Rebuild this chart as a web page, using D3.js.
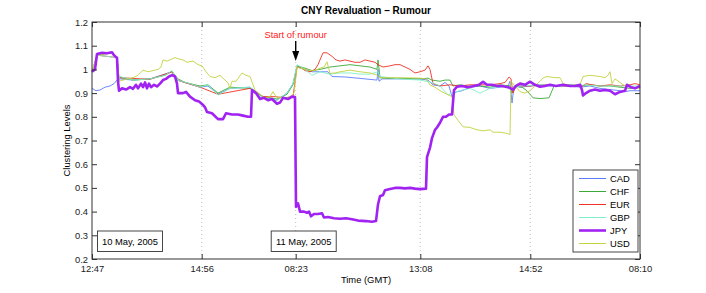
<!DOCTYPE html>
<html>
<head>
<meta charset="utf-8">
<script src="https://cdn.jsdelivr.net/npm/d3@7"></script>
<style>
  html, body { margin: 0; padding: 0; background: #fff; }
  svg text { font-family: "Liberation Sans", Arial, sans-serif; }
</style>
</head>
<body>
<div id="chart"></div>
<script>
/* ─────────────── Datos (t = índice de tiempo, valor) ─────────────── */
const TICK_POS    = [0, 109.7, 203.7, 328.3, 438.3, 548];
const TICK_LABELS = ['12:47', '14:56', '08:23', '13:08', '14:52', '08:10'];
const Y_TICKS     = [0.2, 0.3, 0.4, 0.5, 0.6, 0.7, 0.8, 0.9, 1, 1.1, 1.2];
const RUMOUR_T    = 203.7;
const DAY_LABELS  = ['10 May, 2005', '11 May, 2005'];

// puntos: [pixel x, nivel]; t = px - 92
const CAD = [[92,0.92],[96,0.91],[100,0.913],[105,0.925],[110,0.93],[114,0.94],[117,0.955],[120,0.96],[133,0.955],[150,0.96],[172,0.99],[177,0.955],[200,0.925],[208,0.93],[218,0.895],[230,0.92],[250,0.925],[263,0.88],[277,0.87],[287,0.9],[293,0.94],[297,1.01],[305,1.0],[312,0.99],[320,0.99],[328,0.99],[332,0.97],[345,0.968],[360,0.962],[377,0.955],[378,1.0],[379,0.95],[382,0.96],[400,0.96],[420,0.96],[428,0.955],[433,0.935],[440,0.93],[445,0.945],[449,0.93],[452,0.885],[456,0.905],[462,0.91],[470,0.925],[480,0.93],[490,0.92],[500,0.925],[508,0.93],[510,0.95],[512,0.858],[514,0.93],[520,0.925],[530,0.93],[540,0.935],[550,0.93],[560,0.93],[570,0.93],[580,0.925],[590,0.93],[600,0.92],[610,0.915],[620,0.91],[625,0.906],[630,0.91],[640,0.91]];

const CHF = [[92,0.99],[95,1.0],[97,1.06],[112,1.07],[117,1.05],[119,0.96],[120,0.965],[126,0.962],[133,0.955],[140,0.957],[150,0.96],[158,0.968],[165,0.975],[172,0.992],[178,0.96],[185,0.945],[200,0.93],[208,0.935],[218,0.9],[230,0.925],[250,0.92],[263,0.885],[277,0.875],[287,0.895],[293,0.935],[297,1.015],[305,1.005],[312,0.995],[320,1.0],[330,1.01],[340,1.015],[350,1.02],[360,1.015],[370,1.01],[377,1.0],[378,1.04],[380,0.965],[390,0.962],[400,0.962],[420,0.96],[428,0.963],[432,0.955],[440,0.95],[445,0.955],[450,0.955],[453,0.93],[460,0.935],[470,0.928],[480,0.93],[490,0.925],[500,0.935],[510,0.93],[512,0.9],[515,0.93],[522,0.925],[526,0.913],[530,0.895],[533,0.88],[540,0.877],[549,0.88],[552,0.91],[554,0.93],[570,0.935],[580,0.93],[590,0.935],[600,0.93],[610,0.93],[620,0.925],[630,0.92],[640,0.925]];

const EUR = [[92,0.99],[97,1.06],[117,1.05],[119,0.96],[120,0.965],[150,0.958],[172,0.99],[177,0.955],[200,0.925],[218,0.895],[250,0.92],[263,0.885],[268,0.885],[275,0.885],[285,0.88],[293,0.885],[297,1.01],[300,1.01],[305,0.995],[310,0.99],[315,1.0],[318,1.02],[323,1.07],[327,1.07],[332,1.055],[336,1.04],[340,1.035],[345,1.04],[350,1.035],[355,1.03],[360,1.03],[365,1.04],[370,1.035],[375,1.03],[378,1.02],[383,1.01],[390,1.015],[395,1.02],[400,1.02],[405,1.01],[410,1.0],[415,0.985],[420,0.99],[425,0.997],[428,1.015],[430,1.0],[433,0.94],[440,0.93],[450,0.935],[460,0.93],[470,0.935],[480,0.935],[490,0.935],[500,0.94],[505,0.945],[509,0.968],[511,0.96],[513,0.9],[516,0.93],[530,0.93],[545,0.935],[560,0.93],[575,0.93],[583,0.93],[586,0.94],[592,0.935],[600,0.93],[610,0.935],[620,0.93],[630,0.935],[635,0.94],[640,0.935]];

const GBP = [[92,0.99],[97,1.06],[117,1.05],[119,0.96],[120,0.97],[133,0.955],[150,0.96],[165,0.975],[172,0.995],[177,0.955],[190,0.94],[200,0.925],[208,0.935],[218,0.892],[230,0.92],[250,0.925],[263,0.88],[277,0.87],[287,0.9],[293,0.94],[297,1.02],[305,1.0],[312,0.975],[320,0.99],[330,0.98],[340,0.985],[350,0.985],[360,0.98],[370,0.98],[378,0.99],[380,0.97],[390,0.965],[400,0.96],[420,0.955],[432,0.945],[440,0.93],[448,0.892],[452,0.9],[460,0.91],[470,0.92],[480,0.9],[490,0.92],[505,0.93],[512,0.92],[520,0.93],[540,0.935],[560,0.93],[580,0.935],[600,0.93],[620,0.93],[640,0.93]];

const JPY = [[92,0.99],[95,1.0],[97,1.065],[102,1.07],[107,1.068],[112,1.072],[114,1.06],[116,1.052],[117,1.05],[118,0.95],[119,0.91],[122,0.92],[126,0.915],[130,0.925],[133,0.918],[136,0.935],[138,0.92],[141,0.94],[143,0.925],[145,0.945],[147,0.92],[149,0.94],[151,0.925],[154,0.935],[157,0.928],[160,0.94],[163,0.955],[166,0.96],[169,0.97],[172,0.976],[175,0.97],[177,0.94],[178,0.9],[183,0.9],[186,0.905],[190,0.885],[195,0.87],[199,0.865],[203,0.85],[205,0.84],[207,0.82],[212,0.815],[218,0.79],[223,0.79],[226,0.815],[232,0.81],[238,0.81],[243,0.805],[248,0.8],[251,0.8],[252,0.913],[256,0.9],[260,0.875],[264,0.88],[268,0.87],[272,0.875],[277,0.855],[280,0.86],[283,0.88],[288,0.875],[292,0.885],[295,0.883],[296,0.42],[298,0.435],[300,0.4],[304,0.4],[307,0.395],[309,0.4],[311,0.38],[314,0.39],[318,0.39],[322,0.393],[324,0.375],[328,0.377],[334,0.372],[340,0.37],[346,0.372],[352,0.368],[358,0.362],[366,0.36],[372,0.357],[376,0.36],[378,0.43],[380,0.465],[383,0.47],[385,0.49],[390,0.495],[395,0.5],[400,0.5],[405,0.498],[410,0.5],[415,0.497],[420,0.495],[426,0.497],[427,0.63],[430,0.67],[432,0.71],[435,0.745],[437,0.755],[440,0.775],[443,0.8],[446,0.8],[449,0.81],[452,0.81],[454,0.913],[457,0.927],[462,0.93],[468,0.925],[474,0.93],[479,0.935],[483,0.948],[487,0.935],[492,0.935],[497,0.93],[502,0.93],[508,0.925],[513,0.915],[516,0.93],[520,0.94],[525,0.935],[530,0.948],[535,0.935],[540,0.927],[545,0.93],[550,0.935],[556,0.93],[563,0.935],[570,0.93],[575,0.93],[580,0.935],[582,0.913],[583,0.89],[586,0.9],[590,0.91],[595,0.915],[600,0.91],[605,0.913],[610,0.91],[615,0.895],[620,0.905],[625,0.91],[627,0.935],[631,0.925],[635,0.92],[640,0.93]];

const USD = [[92,0.99],[97,1.06],[112,1.07],[117,1.05],[119,0.95],[123,0.955],[128,0.96],[133,0.965],[138,0.975],[143,0.997],[148,0.99],[153,0.995],[158,1.0],[161,1.01],[163,1.04],[167,1.035],[170,1.04],[175,1.05],[178,1.045],[183,1.04],[187,1.03],[193,1.035],[198,1.02],[202,1.015],[206,0.99],[210,0.97],[215,0.965],[220,0.975],[225,0.955],[228,0.943],[230,0.92],[232,0.95],[236,0.95],[242,0.985],[246,0.975],[250,0.97],[255,0.913],[260,0.895],[265,0.88],[270,0.885],[273,0.906],[276,0.885],[280,0.88],[285,0.878],[290,0.885],[294,0.9],[297,1.01],[300,1.005],[305,1.0],[310,0.995],[315,0.995],[320,1.005],[324,1.01],[327,1.032],[330,0.983],[335,0.985],[340,0.99],[350,0.997],[360,0.99],[370,0.985],[377,0.976],[380,0.965],[400,0.965],[420,0.963],[426,0.96],[430,0.934],[435,0.925],[440,0.91],[447,0.895],[452,0.885],[454,0.808],[458,0.785],[463,0.758],[470,0.755],[477,0.745],[483,0.741],[490,0.745],[493,0.735],[500,0.735],[507,0.73],[510,0.725],[511,0.95],[515,0.93],[520,0.906],[525,0.9],[530,0.91],[535,0.93],[540,0.95],[543,0.964],[547,0.97],[555,0.965],[560,0.965],[563,0.94],[570,0.93],[575,0.935],[580,0.935],[583,0.97],[590,0.975],[600,0.97],[605,0.965],[608,0.975],[610,0.99],[612,0.94],[615,0.96],[620,0.945],[625,0.93],[632,0.925],[640,0.92]];

const SERIES = [
  { name: 'CAD', pts: CAD, color: '#5b7cff', w: 0.9 },
  { name: 'CHF', pts: CHF, color: '#3aa935', w: 0.9 },
  { name: 'EUR', pts: EUR, color: '#ee3324', w: 0.9 },
  { name: 'GBP', pts: GBP, color: '#80f0c8', w: 0.9 },
  { name: 'USD', pts: USD, color: '#c2d340', w: 0.9 },
  { name: 'JPY', pts: JPY, color: '#a023f2', w: 2.6 }
];
const LEGEND_ORDER = ['CAD', 'CHF', 'EUR', 'GBP', 'JPY', 'USD'];

/* ─────────────── Layout ─────────────── */
const W = 706, H = 293;
const M = { top: 22, right: 66, bottom: 34, left: 92 };
const iw = W - M.left - M.right, ih = H - M.top - M.bottom;
const FS = 9.4;

const svg = d3.select('#chart').append('svg')
  .attr('width', W).attr('height', H);

const x = d3.scaleLinear().domain([0, 548]).range([0, iw]);
const y = d3.scaleLinear().domain([0.2, 1.2]).range([ih, 0]);

const g = svg.append('g').attr('transform', `translate(${M.left},${M.top})`);

/* rejilla vertical punteada */
g.append('g').selectAll('line')
  .data(TICK_POS.slice(1, -1))
  .join('line')
    .attr('x1', d => x(d)).attr('x2', d => x(d))
    .attr('y1', 0).attr('y2', ih)
    .attr('stroke', '#b0b0b0').attr('stroke-width', 0.8)
    .attr('stroke-dasharray', '1,3');

/* líneas */
const line = d3.line()
  .x(d => x(d[0] - 92))
  .y(d => y(d[1]));

g.append('g').attr('fill', 'none')
  .selectAll('path')
  .data(SERIES)
  .join('path')
    .attr('d', d => line(d.pts))
    .attr('stroke', d => d.color)
    .attr('stroke-width', d => d.w)
    .attr('stroke-linejoin', 'round');

/* ejes (ticks hacia dentro, estilo Matlab) */
const fmtY = d => d === 1 ? '1' : d3.format('.1f')(d);
const axisStyle = sel => {
  sel.select('.domain').remove();
  sel.selectAll('line').attr('stroke', '#333');
  sel.selectAll('text').attr('font-size', FS).attr('fill', '#222');
};

g.append('g')
  .call(d3.axisLeft(y).tickValues(Y_TICKS).tickFormat(fmtY).tickSizeInner(-5).tickPadding(4))
  .call(axisStyle);

g.append('g').attr('transform', `translate(${iw},0)`)
  .call(d3.axisRight(y).tickValues(Y_TICKS).tickFormat('').tickSizeInner(-5))
  .call(axisStyle);

g.append('g').attr('transform', `translate(0,${ih})`)
  .call(d3.axisBottom(x).tickValues(TICK_POS).tickFormat((d, i) => TICK_LABELS[i]).tickSizeInner(-5).tickPadding(6))
  .call(axisStyle);

g.append('g')
  .call(d3.axisTop(x).tickValues(TICK_POS).tickFormat('').tickSizeInner(-5))
  .call(axisStyle);

g.append('rect')
  .attr('width', iw).attr('height', ih)
  .attr('fill', 'none').attr('stroke', '#333').attr('stroke-width', 1);

/* títulos */
svg.append('text')
  .attr('x', M.left + iw / 2).attr('y', 14)
  .attr('text-anchor', 'middle')
  .attr('font-size', 10).attr('font-weight', 'bold')
  .text('CNY Revaluation – Rumour');

svg.append('text')
  .attr('x', M.left + iw / 2).attr('y', 283)
  .attr('text-anchor', 'middle').attr('font-size', FS)
  .text('Time (GMT)');

svg.append('text')
  .attr('transform', `translate(70,${M.top + ih / 2}) rotate(-90)`)
  .attr('text-anchor', 'middle').attr('font-size', FS)
  .text('Clustering Levels');

/* anotación: inicio del rumor */
const ax = x(RUMOUR_T);
g.append('text')
  .attr('x', ax).attr('y', 16)
  .attr('text-anchor', 'middle').attr('font-size', FS)
  .attr('fill', '#ff2020')
  .text('Start of rumour');
g.append('line')
  .attr('x1', ax).attr('x2', ax).attr('y1', 19).attr('y2', 35)
  .attr('stroke', '#000').attr('stroke-width', 1.4);
g.append('path')
  .attr('d', `M${ax - 3.5},${29} L${ax},${39} L${ax + 3.5},${29} Z`)
  .attr('fill', '#000');

/* cajas de fecha */
const days = g.append('g').selectAll('g')
  .data(DAY_LABELS)
  .join('g')
    .attr('transform', (d, i) => `translate(${i === 0 ? x(0) + 5.5 : x(RUMOUR_T) - 24.5},${ih - 28})`);
days.append('rect')
  .attr('width', 65).attr('height', 20.5)
  .attr('fill', '#fff').attr('stroke', '#333').attr('stroke-width', 0.9);
days.append('text')
  .attr('x', 32.5).attr('y', 13.8)
  .attr('text-anchor', 'middle').attr('font-size', FS)
  .text(d => d);

/* leyenda */
const lg = g.append('g').attr('transform', `translate(${iw - 67},${ih - 89})`);
lg.append('rect')
  .attr('width', 65).attr('height', 82)
  .attr('fill', '#fff').attr('stroke', '#333').attr('stroke-width', 0.9);
const item = lg.selectAll('g.item')
  .data(LEGEND_ORDER.map(n => SERIES.find(s => s.name === n)))
  .join('g').attr('class', 'item')
    .attr('transform', (d, i) => `translate(0,${8.5 + i * 13})`);
item.append('line')
  .attr('x1', 6).attr('x2', 33)
  .attr('stroke', d => d.color)
  .attr('stroke-width', d => d.name === 'JPY' ? 2.6 : 1);
item.append('text')
  .attr('x', 37).attr('y', 3.4).attr('font-size', FS)
  .text(d => d.name);
</script>
</body>
</html>
